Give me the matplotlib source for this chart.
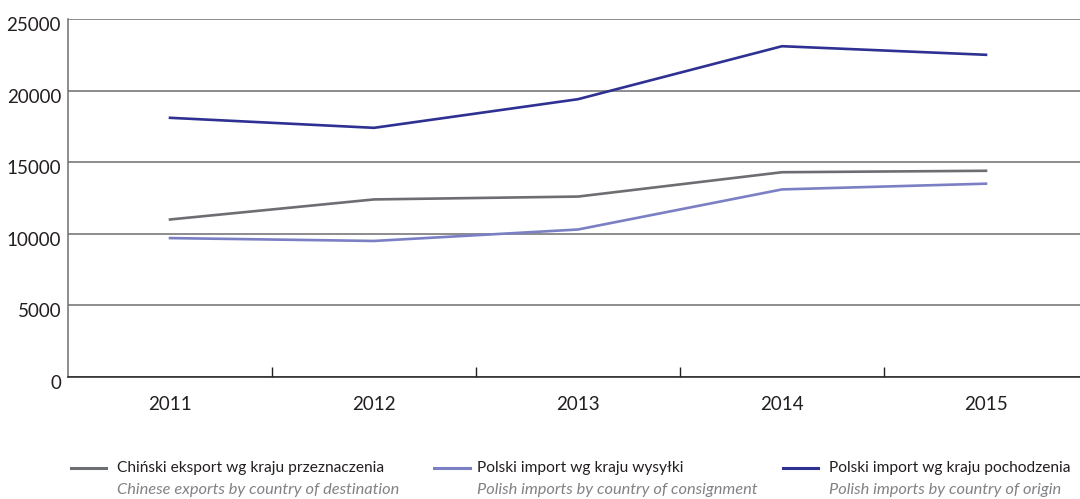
import matplotlib
matplotlib.use("Agg")
import matplotlib.pyplot as plt
from matplotlib.lines import Line2D
from matplotlib.transforms import ScaledTranslation

plt.rcParams['font.family'] = ['Lato', 'DejaVu Sans']

years = ["2011", "2012", "2013", "2014", "2015"]
chinese_export = [11000, 12400, 12600, 14300, 14400]
polish_import_consignment = [9700, 9500, 10300, 13100, 13500]
polish_import_origin = [18100, 17400, 19400, 23100, 22500]

labels_pl = ["Chiński eksport wg kraju przeznaczenia",
             "Polski import wg kraju wysyłki",
             "Polski import wg kraju pochodzenia"]
labels_en = ["Chinese exports by country of destination",
             "Polish imports by country of consignment",
             "Polish imports by country of origin"]
colors = ["#6d6e71", "#7b7fc4", "#2e3192"]
series = [chinese_export, polish_import_consignment, polish_import_origin]

W, H = 1080, 499
fig = plt.figure(figsize=(W / 100, H / 100), dpi=100)
left, right, top, bottom = 68, 1088, 19, 377
ax = fig.add_axes([left / W, 1 - bottom / H, (right - left) / W, (bottom - top) / H])

x = list(range(len(years)))
for s, c in zip(series, colors):
    ax.plot(x, s, color=c, lw=1.9, solid_joinstyle='miter', zorder=3)

ax.set_xlim(-0.5, len(years) - 0.5)
ax.set_ylim(0, 25000)
ax.set_yticks([0, 5000, 10000, 15000, 20000, 25000])
ax.set_yticklabels([str(v) for v in [0, 5000, 10000, 15000, 20000, 25000]])
ax.yaxis.grid(True, color="#6d6e71", lw=1.1)
ax.set_axisbelow(True)

ax.set_xticks(x)
ax.set_xticklabels(years)
ax.set_xticks([i + 0.5 for i in range(len(years) - 1)], minor=True)
ax.tick_params(axis='x', which='major', length=0, pad=14, labelsize=13.5, labelcolor="#231f20")
ax.tick_params(axis='x', which='minor', direction='in', length=7, width=1, color="#231f20")
ax.tick_params(axis='y', length=0, pad=5, labelsize=13.5, labelcolor="#231f20")

off = ScaledTranslation(0, -5 / 100, fig.dpi_scale_trans)
for lbl in ax.get_yticklabels():
    lbl.set_transform(lbl.get_transform() + off)

for sp in ['top', 'right']:
    ax.spines[sp].set_visible(False)
ax.spines['left'].set_color("#6d6e71")
ax.spines['left'].set_linewidth(1.1)
ax.spines['bottom'].set_color("#231f20")
ax.spines['bottom'].set_linewidth(1.1)

# legend
leg_line = [(71, 106), (434, 470), (783, 818)]
leg_text = [117, 477, 829]
for (x0, x1), tx, c, lp, le in zip(leg_line, leg_text, colors, labels_pl, labels_en):
    y = 1 - 468 / H
    fig.add_artist(Line2D([x0 / W, x1 / W], [y, y], color=c, lw=2.2,
                          transform=fig.transFigure))
    fig.text(tx / W, y, lp, fontsize=11.2, color="#231f20", va='center', ha='left')
    fig.text(tx / W, 1 - 490 / H, le, fontsize=11.8, color="#808285",
             style='italic', va='center', ha='left')

fig.savefig("out.png", dpi=100)
